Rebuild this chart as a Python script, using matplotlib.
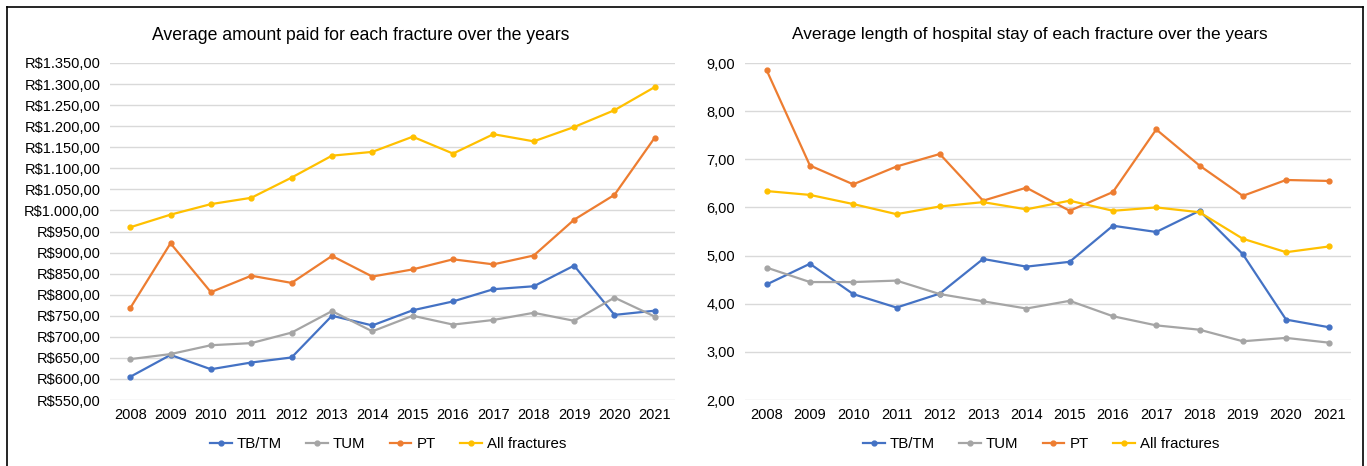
import matplotlib
matplotlib.use("Agg")
import matplotlib.pyplot as plt
from matplotlib.lines import Line2D

plt.rcParams['font.family'] = ['Liberation Sans', 'DejaVu Sans']

years = ["2008", "2009", "2010", "2011", "2012", "2013", "2014",
         "2015", "2016", "2017", "2018", "2019", "2020", "2021"]
series_names = ["TB/TM", "TUM", "PT", "All fractures"]

paid_tbtm = [605, 657, 623, 639, 651, 750, 727, 763, 784, 813, 820, 869, 752, 762]
paid_tum = [647, 659, 680, 685, 710, 761, 713, 750, 729, 740, 757, 738, 793, 748]
paid_pt = [768, 922, 806, 845, 828, 892, 843, 860, 884, 872, 893, 978, 1037, 1173]
paid_all = [960, 990, 1015, 1030, 1078, 1130, 1139, 1175, 1135, 1181, 1164, 1198, 1238, 1293]

stay_tbtm = [4.40, 4.83, 4.20, 3.92, 4.21, 4.93, 4.77, 4.87, 5.62, 5.49, 5.93, 5.03, 3.67, 3.51]
stay_tum = [4.75, 4.45, 4.45, 4.48, 4.20, 4.05, 3.90, 4.06, 3.74, 3.55, 3.46, 3.22, 3.29, 3.19]
stay_pt = [8.85, 6.87, 6.48, 6.85, 7.11, 6.14, 6.41, 5.93, 6.32, 7.62, 6.87, 6.24, 6.57, 6.55]
stay_all = [6.34, 6.26, 6.07, 5.86, 6.02, 6.11, 5.96, 6.14, 5.93, 6.00, 5.90, 5.35, 5.07, 5.19]

colors = ["#4472C4", "#A5A5A5", "#ED7D31", "#FFC000"]

W, H = 1367, 466
fig = plt.figure(figsize=(W / 100, H / 100), dpi=100)

def fx(px):
    return px / W

def fy(py):
    return 1 - py / H

ax1 = fig.add_axes([fx(110), fy(400), fx(675) - fx(110), fy(63) - fy(400)])
ax2 = fig.add_axes([fx(745), fy(400), fx(1351) - fx(745), fy(63) - fy(400)])

def style(ax):
    for s in ax.spines.values():
        s.set_visible(False)
    ax.grid(axis='y', color='#D9D9D9', linewidth=1.0)
    ax.set_axisbelow(True)
    ax.tick_params(axis='both', length=0, labelsize=10.5, colors='#000000')
    ax.tick_params(axis='y', pad=7)
    ax.tick_params(axis='x', pad=6)
    ax.set_xlim(-0.5, len(years) - 0.5)
    ax.set_xticks(range(len(years)))
    ax.set_xticklabels(years)

x = list(range(len(years)))
for data, c, n in zip([paid_tbtm, paid_tum, paid_pt, paid_all], colors, series_names):
    ax1.plot(x, data, color=c, linewidth=1.6, marker='o', markersize=3.5, label=n)
for data, c, n in zip([stay_tbtm, stay_tum, stay_pt, stay_all], colors, series_names):
    ax2.plot(x, data, color=c, linewidth=1.6, marker='o', markersize=3.5, label=n)

style(ax1)
style(ax2)

ax1.set_ylim(550, 1350)
yt1 = list(range(550, 1351, 50))
ax1.set_yticks(yt1)
def brl(v):
    s = f"{v:,.2f}"
    s = s.replace(",", "X").replace(".", ",").replace("X", ".")
    return "R$" + s
ax1.set_yticklabels([brl(v) for v in yt1])

ax2.set_ylim(2, 9)
yt2 = list(range(2, 10))
ax2.set_yticks(yt2)
ax2.set_yticklabels([f"{v:.2f}".replace(".", ",") for v in yt2])

fig.text(fx(361), fy(35), "Average amount paid for each fracture over the years",
         ha='center', va='center', fontsize=12.7)
fig.text(fx(1030), fy(35), "Average length of hospital stay of each fracture over the years",
         ha='center', va='center', fontsize=12.4)

for ax, cx in [(ax1, 388), (ax2, 1041)]:
    h, l = ax.get_legend_handles_labels()
    fig.legend(h, l, loc='center', bbox_to_anchor=(fx(cx), fy(444)), ncol=4,
               frameon=False, fontsize=10.8, handlelength=1.45, handletextpad=0.35,
               columnspacing=1.6, borderaxespad=0, borderpad=0)

# outer frame
fig.add_artist(Line2D([fx(6.5), fx(1363)], [fy(7), fy(7)], color='black', linewidth=1.2))
fig.add_artist(Line2D([fx(6.5), fx(6.5)], [fy(7), 0], color='black', linewidth=1.2))
fig.add_artist(Line2D([fx(1363), fx(1363)], [fy(7), 0], color='black', linewidth=1.2))

fig.savefig("out.png", dpi=100)
